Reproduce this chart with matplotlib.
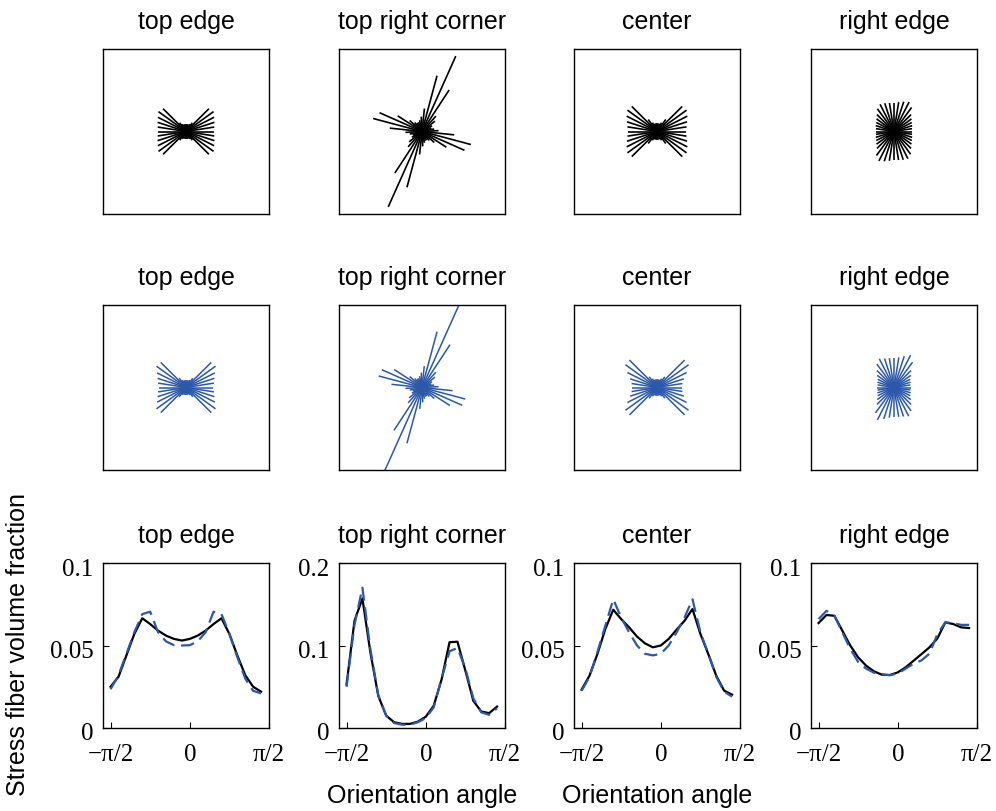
import numpy as np
import matplotlib.pyplot as plt
from matplotlib.transforms import ScaledTranslation

# panel titles, same for each row
titles = ['top edge', 'top right corner', 'center', 'right edge']

# orientation bins: 20 bins over [-pi/2, pi/2)
n_bins = 20
angle = -np.pi / 2 + np.arange(n_bins) * np.pi / n_bins

# stress fiber volume fraction per bin, black solid curves
black_top_edge = [0.025, 0.031, 0.044, 0.057, 0.0665, 0.063, 0.059, 0.056, 0.054, 0.053,
                  0.054, 0.056, 0.059, 0.063, 0.0665, 0.057, 0.044, 0.032, 0.025, 0.022]
black_corner = [0.053, 0.130, 0.157, 0.092, 0.039, 0.015, 0.007, 0.005, 0.005, 0.0077,
                0.0137, 0.027, 0.059, 0.104, 0.1046, 0.0695, 0.033, 0.020, 0.018, 0.026]
black_center = [0.0232, 0.0317, 0.0448, 0.060, 0.0717, 0.066, 0.061, 0.0554, 0.0513, 0.0489,
                0.050, 0.054, 0.0596, 0.065, 0.0721, 0.057, 0.0448, 0.0317, 0.0226, 0.0202]
black_right_edge = [0.0636, 0.0685, 0.068, 0.059, 0.050, 0.0428, 0.0378, 0.0343, 0.0323, 0.0321,
                    0.0337, 0.0368, 0.0408, 0.0448, 0.0489, 0.0543, 0.064, 0.063, 0.061, 0.0606]

# blue dashed curves
blue_top_edge = [0.0235, 0.032, 0.045, 0.058, 0.069, 0.0705, 0.058, 0.0525, 0.0502, 0.050,
                 0.0502, 0.0525, 0.058, 0.0705, 0.069, 0.057, 0.043, 0.030, 0.0225, 0.021]
blue_corner = [0.050, 0.125, 0.170, 0.096, 0.040, 0.015, 0.006, 0.004, 0.004, 0.007,
               0.012, 0.025, 0.060, 0.093, 0.097, 0.072, 0.036, 0.019, 0.016, 0.024]
blue_center = [0.0225, 0.031, 0.046, 0.062, 0.078, 0.067, 0.058, 0.050, 0.045, 0.044,
               0.045, 0.050, 0.058, 0.067, 0.078, 0.058, 0.045, 0.031, 0.022, 0.019]
blue_right_edge = [0.066, 0.071, 0.068, 0.058, 0.048, 0.040, 0.036, 0.0335, 0.0325, 0.032,
                   0.033, 0.036, 0.039, 0.041, 0.045, 0.057, 0.064, 0.0635, 0.0625, 0.0625]

black_curves = [black_top_edge, black_corner, black_center, black_right_edge]
blue_curves = [blue_top_edge, blue_corner, blue_center, blue_right_edge]
y_max = [0.1, 0.2, 0.1, 0.1]
y_ticks = [[0, 0.05, 0.1], [0, 0.1, 0.2], [0, 0.05, 0.1], [0, 0.05, 0.1]]
y_ticklabels = [['0', '0.05', '0.1'], ['0', '0.1', '0.2'], ['0', '0.05', '0.1'], ['0', '0.05', '0.1']]

# rose plots: spoke half-lengths (fraction of half box) at angles -90 + 9k deg
# (plus a per-panel rotation), black = row 1, blue = row 2
rose_offset_deg = [0, 3, 0, 0]
rose_black_top_edge = [0.09, 0.09, 0.09, 0.10, 0.13, 0.39, 0.41, 0.38, 0.36, 0.345,
                       0.34, 0.345, 0.36, 0.38, 0.41, 0.39, 0.13, 0.10, 0.09, 0.09]
rose_black_corner = [0.18, 0.14, 0.12, 0.12, 0.14, 0.20, 0.35, 0.56, 0.61, 0.39,
                     0.20, 0.15, 0.12, 0.14, 0.20, 0.25, 0.60, 1.00, 0.70, 0.28]
rose_black_center = [0.10, 0.10, 0.10, 0.12, 0.18, 0.43, 0.44, 0.41, 0.38, 0.36,
                     0.35, 0.36, 0.38, 0.41, 0.44, 0.43, 0.18, 0.12, 0.10, 0.10]
rose_black_right_edge = [0.35, 0.35, 0.36, 0.37, 0.34, 0.29, 0.26, 0.24, 0.23, 0.22,
                         0.22, 0.22, 0.23, 0.24, 0.26, 0.29, 0.36, 0.40, 0.38, 0.36]
rose_blue_top_edge = [0.09, 0.09, 0.09, 0.10, 0.14, 0.43, 0.44, 0.39, 0.36, 0.34,
                      0.33, 0.34, 0.36, 0.39, 0.44, 0.43, 0.14, 0.10, 0.09, 0.09]
rose_blue_corner = [0.18, 0.14, 0.12, 0.12, 0.14, 0.20, 0.40, 0.53, 0.54, 0.37,
                    0.20, 0.15, 0.12, 0.14, 0.20, 0.25, 0.62, 1.12, 0.70, 0.26]
rose_blue_center = [0.10, 0.10, 0.10, 0.12, 0.16, 0.47, 0.47, 0.40, 0.34, 0.31,
                    0.30, 0.31, 0.34, 0.40, 0.47, 0.47, 0.16, 0.12, 0.10, 0.10]
rose_blue_right_edge = [0.36, 0.36, 0.37, 0.39, 0.35, 0.29, 0.25, 0.22, 0.21, 0.20,
                        0.20, 0.20, 0.21, 0.22, 0.25, 0.29, 0.38, 0.44, 0.40, 0.37]

rose_black = [rose_black_top_edge, rose_black_corner, rose_black_center, rose_black_right_edge]
rose_blue = [rose_blue_top_edge, rose_blue_corner, rose_blue_center, rose_blue_right_edge]

BLUE = '#2b58a8'
SANS = 'Liberation Sans'
SERIF = 'Liberation Serif'
FS = 18

W, H = 996, 812
fig = plt.figure(figsize=(W / 100, H / 100), dpi=100)

col_left = [103, 339, 574, 811]
row_top = [50, 306, 564]
box_w, box_h = 166, 165


def add_box(col, row):
    x0 = col_left[col] / W
    y0 = 1 - (row_top[row] + box_h) / H
    return fig.add_axes([x0, y0, box_w / W, box_h / H])


def draw_rose(ax, lengths, offset, color, lw):
    phi = np.deg2rad(-90 + 9 * np.arange(len(lengths)) + offset)
    L = np.array(lengths)
    for p, l in zip(phi, L):
        ax.plot([-l * np.cos(p), l * np.cos(p)], [-l * np.sin(p), l * np.sin(p)],
                color=color, lw=lw, solid_capstyle='butt')
    ax.set_xlim(-1, 1)
    ax.set_ylim(-1, 1)
    ax.set_xticks([])
    ax.set_yticks([])


for row, (roses, color, lw) in enumerate([(rose_black, 'black', 1.2), (rose_blue, BLUE, 1.1)]):
    for col in range(4):
        ax = add_box(col, row)
        draw_rose(ax, roses[col], rose_offset_deg[col], color, lw)
        ax.set_title(titles[col], fontsize=FS, family=SANS, pad=15)
        for s in ax.spines.values():
            s.set_linewidth(1.0)

# shift y tick labels a little downwards, as in the original
ylab_shift = ScaledTranslation(0, -3 / 100, fig.dpi_scale_trans)

for col in range(4):
    ax = add_box(col, 2)
    ax.plot(angle, black_curves[col], color='black', lw=1.6)
    ax.plot(angle, blue_curves[col], color=BLUE, lw=1.6, dashes=(6, 3))
    ax.set_xlim(-np.pi / 2 - 0.15, np.pi / 2)
    ax.set_ylim(0, y_max[col])
    ax.set_xticks([-np.pi / 2, 0, np.pi / 2])
    ax.set_xticklabels(['\u2212\u03c0/2', '0', '\u03c0/2'], family=SERIF, fontsize=FS)
    ax.set_yticks(y_ticks[col])
    ax.set_yticklabels(y_ticklabels[col], family=SERIF, fontsize=FS)
    ax.tick_params(direction='in', length=4, width=0.8)
    ax.tick_params(axis='x', pad=11)
    ax.tick_params(axis='y', pad=7)
    for lab in ax.get_yticklabels():
        lab.set_transform(lab.get_transform() + ylab_shift)
    ax.set_title(titles[col], fontsize=FS, family=SANS, pad=15)
    for s in ax.spines.values():
        s.set_linewidth(1.0)
    if col in (1, 2):
        ax.set_xlabel('Orientation angle', fontsize=FS, family=SANS, labelpad=13)

fig.text(18 / W, 1 - 645 / H, 'Stress fiber volume fraction', rotation=90,
         ha='center', va='center', fontsize=FS, family=SANS)

fig.savefig('out.png', dpi=100)
